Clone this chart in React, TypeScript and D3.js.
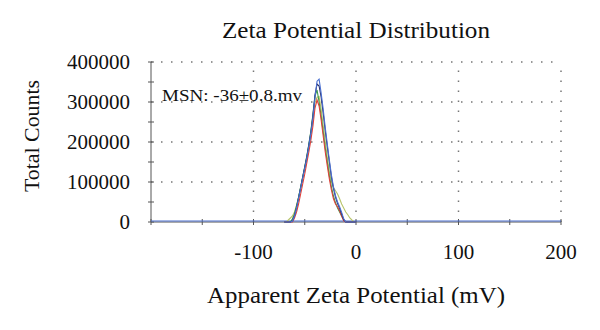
import React from "react";
import * as d3 from "d3";

const xVals = [-70, -68, -66, -64, -62, -60, -58, -56, -54, -52, -50, -48, -46, -44, -42, -40, -38, -36, -34, -32, -30, -28, -26, -24, -22, -20, -18, -16, -14, -12, -10, -8, -6, -4, -2, 0];

const blue = [0, 0, 0, 0, 2000, 15000, 35000, 60000, 85000, 110000, 135000, 160000, 190000, 222000, 262000, 312000, 352000, 357000, 322000, 282000, 236000, 195000, 155000, 118000, 88000, 66000, 50000, 38000, 24000, 8000, 0, 0, 0, 0, 0, 0];
const navy = [0, 0, 0, 0, 3000, 16000, 36000, 61000, 86000, 112000, 137000, 163000, 193000, 225000, 266000, 318000, 345000, 340000, 312000, 272000, 228000, 188000, 150000, 112000, 84000, 62000, 46000, 34000, 20000, 6000, 0, 0, 0, 0, 0, 0];
const green = [0, 0, 0, 0, 8000, 20000, 40000, 62000, 88000, 112000, 138000, 165000, 195000, 228000, 270000, 315000, 330000, 300000, 265000, 225000, 185000, 150000, 115000, 88000, 65000, 48000, 35000, 25000, 15000, 5000, 0, 0, 0, 0, 0, 0];
const red = [0, 0, 0, 0, 0, 10000, 25000, 45000, 70000, 95000, 120000, 148000, 175000, 205000, 240000, 285000, 305000, 290000, 255000, 215000, 175000, 140000, 108000, 80000, 58000, 45000, 38000, 28000, 15000, 3000, 0, 0, 0, 0, 0, 0];
const olive = [0, 0, 5000, 10000, 15000, 25000, 42000, 62000, 86000, 110000, 135000, 160000, 188000, 220000, 258000, 298000, 312000, 314000, 282000, 242000, 202000, 162000, 126000, 100000, 86000, 78000, 70000, 58000, 45000, 35000, 25000, 18000, 10000, 5000, 1000, 0];

const xTicks = [-100, 0, 100, 200];
const yTicks = [0, 100000, 200000, 300000, 400000];

const seriesList = [
  { name: "olive", values: olive, color: "#b8c46a" },
  { name: "green", values: green, color: "#3a9a4a" },
  { name: "red", values: red, color: "#e0403a" },
  { name: "navy", values: navy, color: "#28306a" },
  { name: "blue", values: blue, color: "#4a6fd0" },
];

const FONT = "'Liberation Serif', 'Times New Roman', serif";

export default function App() {
  const W = 600, H = 330;
  const x = d3.scaleLinear().domain([-200, 200]).range([151, 561]);
  const y = d3.scaleLinear().domain([0, 400000]).range([222, 62]);
  const line = d3.line<[number, number]>().x((d) => x(d[0])).y((d) => y(d[1]));
  const minorX = d3.range(-200, 201, 50);
  const minorY = d3.range(0, 400001, 50000);
  return (
    <svg width={W} height={H} style={{ position: "absolute", left: 0, top: 0, background: "#fff" }} fontFamily={FONT}>
      <rect x={0} y={0} width={W} height={H} fill="#fff" />
      {yTicks.slice(1).map((t) => (
        <line key={"gy" + t} x1={x(-200)} x2={x(200)} y1={y(t)} y2={y(t)} stroke="#777" strokeWidth={1.5} strokeDasharray="1.5 8.5" />
      ))}
      {xTicks.map((t) => (
        <line key={"gx" + t} x1={x(t)} x2={x(t)} y1={y(0)} y2={y(400000)} stroke="#777" strokeWidth={1.5} strokeDasharray="1.5 8.5" />
      ))}
      <line x1={x(-200)} x2={x(-200)} y1={y(0)} y2={y(400000)} stroke="#555" strokeWidth={1} />
      <line x1={x(-200)} x2={x(200)} y1={y(0)} y2={y(0)} stroke="#555" strokeWidth={1} />
      {minorY.map((t) => (
        <line key={"ty" + t} x1={x(-200) - 3} x2={x(-200) + 3} y1={y(t)} y2={y(t)} stroke="#555" />
      ))}
      {minorX.map((t) => (
        <line key={"tx" + t} x1={x(t)} x2={x(t)} y1={y(0) - 3} y2={y(0) + 3} stroke="#555" />
      ))}
      <line x1={x(-200)} x2={x(200)} y1={y(0) - 1} y2={y(0) - 1} stroke="#4a6fd0" strokeWidth={1.2} />
      {seriesList.map((s) => (
        <path key={s.name} d={line(xVals.map((v, i) => [v, s.values[i]]) as [number, number][]) || ""} fill="none" stroke={s.color} strokeWidth={1.1} />
      ))}
      {yTicks.map((t) => (
        <text key={"ly" + t} x={x(-200) - 21} y={y(t)} dy="0.35em" textAnchor="end" fontSize={21} fill="#111">{t}</text>
      ))}
      {xTicks.map((t) => (
        <text key={"lx" + t} x={x(t)} y={y(0) + 37} textAnchor="middle" fontSize={21} fill="#111">{t}</text>
      ))}
      <text x={356} y={38} textAnchor="middle" fontSize={23} fill="#111" textLength={268} lengthAdjust="spacingAndGlyphs">Zeta Potential Distribution</text>
      <text x={356} y={303} textAnchor="middle" fontSize={23} fill="#111" textLength={298} lengthAdjust="spacingAndGlyphs">Apparent Zeta Potential (mV)</text>
      <text transform="translate(39,136) rotate(-90)" textAnchor="middle" fontSize={22} fill="#111" textLength={112} lengthAdjust="spacingAndGlyphs">Total Counts</text>
      <text x={162} y={101} fontSize={17} fill="#111" textLength={140} lengthAdjust="spacingAndGlyphs">MSN: -36±0.8.mv</text>
    </svg>
  );
}
